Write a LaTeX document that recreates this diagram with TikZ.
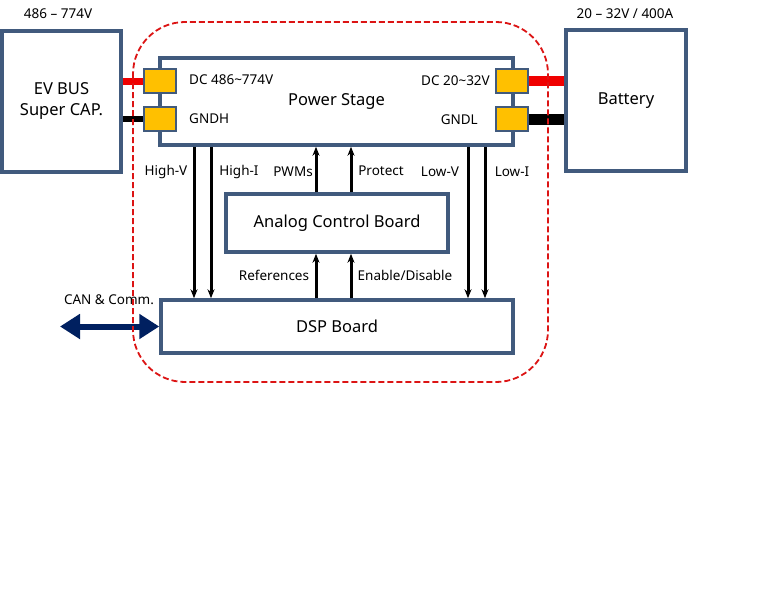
\documentclass[tikz,border=0pt]{standalone}
\usepackage{fontspec}
\setmainfont{Noto Sans}
\usepackage{tikz}
\usetikzlibrary{calc}
\usetikzlibrary{arrows.meta}
\usetikzlibrary{positioning}
\definecolor{boxblue}{RGB}{65, 90, 125}
\definecolor{plugyellow}{RGB}{255, 192, 0}
\definecolor{wirered}{RGB}{240, 0, 0}
\definecolor{dashred}{RGB}{220, 20, 20}
\definecolor{navyblue}{RGB}{0, 32, 96}

\tikzset{
    blk/.style={draw=boxblue, line width=3.5pt, fill=white, inner sep=0pt, font=\fontsize{16.5}{21}\selectfont},
    plug/.style={draw=boxblue, line width=2pt, fill=plugyellow, minimum width=32pt, minimum height=24pt, inner sep=0pt},
    lbl/.style={font=\fontsize{13.5}{16}\selectfont, inner sep=0pt},
    sig/.style={black, line width=3pt, -{Stealth[length=9pt, width=7pt]}},
}

\begin{document}
\begin{tikzpicture}[x=1pt, y=-1pt]
            % Frame
            \fill[white] (0,0) rectangle (768,614);
            \useasboundingbox (0,0) rectangle (768,614);
            % Sources
            \node[blk, minimum width=119pt, minimum height=141pt, align=center] (evbus) at ( 61.5,101.5) {EV BUS\\Super CAP.};
            \node[blk, minimum width=120pt, minimum height=141pt] (battery) at (626.0,100.5) {Battery};
            \node[lbl] (vhigh) at ( 58,14) {486 -- 774V};
            \node[lbl] (vlow)  at (625,14) {20 -- 32V / 400A};
            % Boards
            \node[blk, minimum width=353pt, minimum height=87pt] (ps)  at (336.5,101.5) {Power Stage};
            \node[blk, minimum width=222pt, minimum height=58pt] (acb) at (337.0,223.0) {Analog Control Board};
            \node[blk, minimum width=352pt, minimum height=53pt] (dsp) at (337.0,326.5) {DSP Board};
            % Terminals
            \node[plug] (pin1) at (160, 81) {};
            \node[plug] (pin2) at (160,119) {};
            \node[plug] (pin3) at (512, 81) {};
            \node[plug] (pin4) at (512,119) {};
            \node[lbl, anchor=west] (dch) at (189, 80) {DC 486\textasciitilde774V};
            \node[lbl, anchor=west] (gh)  at (189,119) {GNDH};
            \node[lbl, anchor=east] (dcl) at (490, 81) {DC 20\textasciitilde32V};
            \node[lbl, anchor=east] (gl)  at (478,120) {GNDL};
            % Wires
            \draw[wirered, line width=7pt]  (evbus.east |- pin1) -- (pin1.west);
            \draw[black,   line width=6pt]  (evbus.east |- pin2) -- (pin2.west);
            \draw[wirered, line width=10pt] (pin3.east) -- (battery.west |- pin3);
            \draw[black,   line width=11pt] (pin4.east) -- (battery.west |- pin4);
            % Signals
            \coordinate (xhv) at (194,0);
            \coordinate (xhi) at (211,0);
            \coordinate (xpw) at (316,0);
            \coordinate (xpr) at (351,0);
            \coordinate (xlv) at (468,0);
            \coordinate (xli) at (485,0);
            \draw[sig] (ps.south -| xhv) -- (dsp.north -| xhv);
            \draw[sig] (ps.south -| xhi) -- (dsp.north -| xhi);
            \draw[sig] (ps.south -| xlv) -- (dsp.north -| xlv);
            \draw[sig] (ps.south -| xli) -- (dsp.north -| xli);
            \draw[sig] (acb.north -| xpw) -- (ps.south -| xpw);
            \draw[sig] (acb.north -| xpr) -- (ps.south -| xpr);
            \draw[sig] (dsp.north -| xpw) -- (acb.south -| xpw);
            \draw[sig] (dsp.north -| xpr) -- (acb.south -| xpr);
            \node[lbl] (lhv) at (166,172) {High-V};
            \node[lbl] (lhi) at (239,172) {High-I};
            \node[lbl] (lpw) at (293,172) {PWMs};
            \node[lbl] (lpr) at (381,171) {Protect};
            \node[lbl] (llv) at (440,172) {Low-V};
            \node[lbl] (lli) at (512,172) {Low-I};
            \node[lbl] (lrf) at (274,275) {References};
            \node[lbl] (len) at (405,275) {Enable/Disable};
            % Communication
            \coordinate (canend) at (60,326.5);
            \draw[navyblue, line width=6pt, {Triangle[length=20pt, width=24pt]}-{Triangle[length=20pt, width=24pt]}] (canend) -- (dsp.west);
            % Converter boundary
            \draw[dashred, line width=1.8pt, dash pattern=on 6pt off 3pt, rounded corners=52pt] (133,22) rectangle (548,382);
            \node[lbl] (lcan) at (109,300) {CAN \& Comm.};
        \end{tikzpicture}
\end{document}
